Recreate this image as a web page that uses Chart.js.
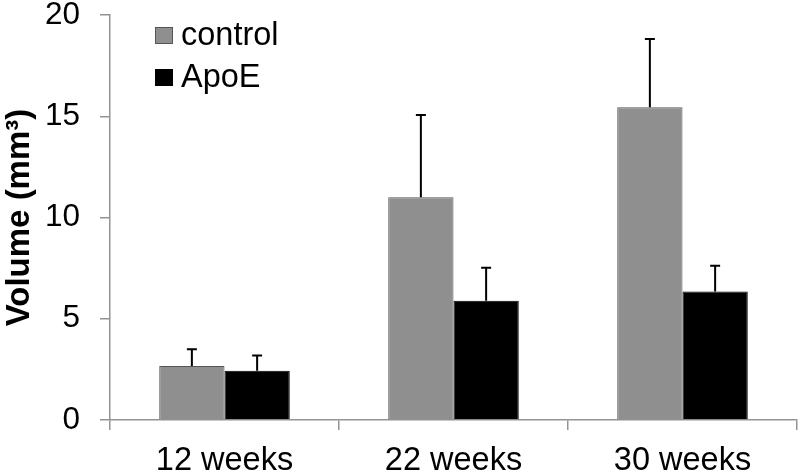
<!DOCTYPE html>
<html>
<head>
<meta charset="utf-8">
<script src="https://cdn.jsdelivr.net/npm/chart.js@4/dist/chart.umd.min.js"></script>
<style>
html,body{margin:0;padding:0;background:#fff;}
#wrap{width:800px;height:475px;}
</style>
</head>
<body>
<div id="wrap"><canvas id="c" width="800" height="475"></canvas></div>
<script>
const categories = ["12 weeks", "22 weeks", "30 weeks"];
const controlValues = [2.67, 11.0, 15.44];
const controlErrors = [0.82, 4.06, 3.37];
const apoeValues = [2.43, 5.89, 6.34];
const apoeErrors = [0.75, 1.63, 1.28];
const yTicks = [0, 5, 10, 15, 20];

const FONT = "'Liberation Sans', Arial, sans-serif";

const errorBarPlugin = {
  id: 'errorBars',
  afterDatasetsDraw(chart) {
    const ctx = chart.ctx;
    const y = chart.scales.y;
    chart.data.datasets.forEach((ds, di) => {
      const meta = chart.getDatasetMeta(di);
      meta.data.forEach((bar, i) => {
        const top = y.getPixelForValue(ds.data[i] + ds.errors[i]);
        ctx.save();
        ctx.strokeStyle = '#000';
        ctx.lineWidth = 2;
        ctx.beginPath();
        ctx.moveTo(bar.x, bar.y);
        ctx.lineTo(bar.x, top);
        ctx.moveTo(bar.x - 5, top);
        ctx.lineTo(bar.x + 5, top);
        ctx.stroke();
        ctx.restore();
      });
    });
  }
};

const legendPlugin = {
  id: 'customLegend',
  afterDraw(chart) {
    const ctx = chart.ctx;
    const items = chart.data.datasets;
    ctx.save();
    ctx.font = "32.5px " + FONT;
    ctx.textBaseline = 'alphabetic';
    items.forEach((ds, i) => {
      const base = 45 + i * 42;
      ctx.fillStyle = ds.backgroundColor;
      ctx.fillRect(155, base - 18, 18, 17);
      ctx.strokeStyle = ds.borderColor;
      ctx.lineWidth = 1;
      ctx.strokeRect(155.5, base - 17.5, 17, 16);
      ctx.fillStyle = '#000';
      ctx.fillText(ds.label, 181, base);
    });
    ctx.restore();
  }
};

new Chart(document.getElementById('c'), {
  type: 'bar',
  data: {
    labels: categories,
    datasets: [
      { label: 'control', data: controlValues, errors: controlErrors,
        backgroundColor: '#8f8f8f', borderColor: '#555555', borderWidth: 1 },
      { label: 'ApoE', data: apoeValues, errors: apoeErrors,
        backgroundColor: '#000000', borderColor: '#000000', borderWidth: 1 }
    ]
  },
  options: {
    responsive: false,
    animation: false,
    devicePixelRatio: 1,
    layout: { padding: { top: 15, right: 3, left: 0, bottom: 0 } },
    datasets: { bar: { categoryPercentage: 0.57, barPercentage: 1.0 } },
    plugins: { legend: { display: false }, tooltip: { enabled: false } },
    scales: {
      x: {
        offset: true,
        grid: { display: true, offset: true, drawOnChartArea: false, tickLength: 10, color: '#939393', lineWidth: 1.5 },
        border: { display: true, color: '#939393', width: 1.5 },
        ticks: { color: '#000', font: { family: FONT, size: 32.5 }, padding: 12 },
        afterFit(s) { s.height = 55; s.paddingLeft = 0; s.paddingRight = 0; }
      },
      y: {
        min: 0, max: 20,
        afterBuildTicks(s) { s.ticks = yTicks.map(v => ({ value: v })); },
        grid: { display: true, drawOnChartArea: false, tickLength: 10, color: '#939393', lineWidth: 1.5 },
        border: { display: true, color: '#939393', width: 1.5 },
        ticks: { color: '#000', font: { family: FONT, size: 31.5 }, padding: 20 },
        title: { display: true, text: 'Volume (mm³)', color: '#000', font: { family: FONT, size: 33, weight: 'bold' }, padding: 0 },
        afterFit(s) { s.width = 110; s.paddingTop = 0; s.paddingBottom = 0; }
      }
    }
  },
  plugins: [errorBarPlugin, legendPlugin]
});
</script>
</body>
</html>
